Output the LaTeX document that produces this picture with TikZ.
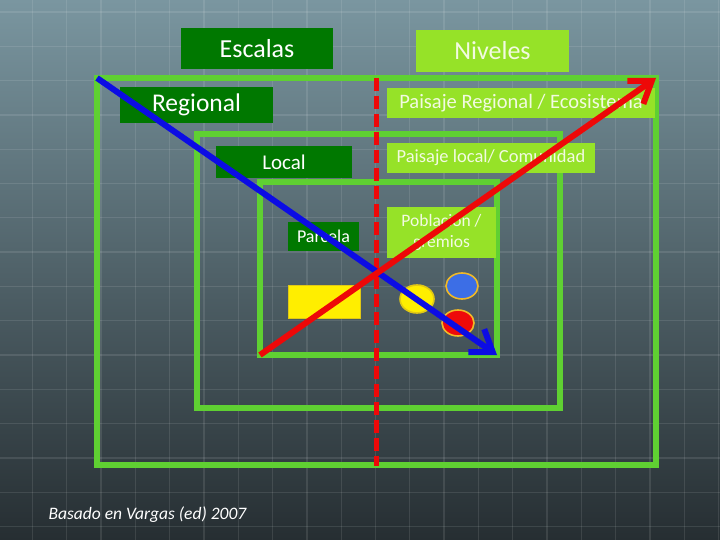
\documentclass[tikz,border=0pt]{standalone}
\usepackage{fontspec}
\setmainfont{Carlito}
\usetikzlibrary{arrows.meta,shapes.geometric}
\definecolor{bgtop}{RGB}{122,150,160}
\definecolor{bgmid}{RGB}{78,98,108}
\definecolor{bgbot}{RGB}{38,46,50}
\definecolor{darkgr}{RGB}{0,120,0}
\definecolor{lightgr}{RGB}{150,226,40}
\definecolor{rectgr}{RGB}{95,208,50}
\definecolor{arrred}{RGB}{238,8,8}
\definecolor{arrblue}{RGB}{12,12,228}
\definecolor{lighttext}{RGB}{242,250,225}
\definecolor{yel}{RGB}{255,238,0}
\definecolor{yeledge}{RGB}{225,200,20}
\definecolor{circblue}{RGB}{60,110,230}
\definecolor{circred}{RGB}{238,10,10}
\definecolor{circedge}{RGB}{240,185,40}
\tikzset{
  gridline/.style={draw=white, draw opacity=0.10, line width=1.3pt},
  darkbox/.style={fill=darkgr, text=white, inner sep=0pt, align=center},
  lightbox/.style={fill=lightgr, text=lighttext, inner sep=0pt, align=center},
  levelrect/.style={draw=rectgr, line width=6.5pt},
  divider/.style={draw=arrred, line width=5pt, dash pattern=on 13pt off 5pt},
  bigarrow/.style={line width=6pt, -{Straight Barb[length=20pt,width=28pt]}},
  blob/.style={line width=1.6pt}
}
\begin{document}
\begin{tikzpicture}[x=1pt,y=-1pt]
\useasboundingbox (0,0) rectangle (720,540);
\shade[top color=bgtop, middle color=bgmid, bottom color=bgbot] (0,0) rectangle (720,540);
\foreach \k in {0,...,20} \draw[gridline] (32.5+34.3*\k,0) -- (32.5+34.3*\k,540);
\foreach \k in {0,...,15} \draw[gridline] (0,12+34.3*\k) -- (720,12+34.3*\k);

% corner coordinates of the three level rectangles
\coordinate (o-nw) at (97,78);  \coordinate (o-ne) at (656,78);  \coordinate (o-se) at (656,465);
\coordinate (m-nw) at (197,134); \coordinate (m-se) at (560,408);
\coordinate (t-nw) at (260,182); \coordinate (t-se) at (497,355); \coordinate (t-sw) at (260,355);
\coordinate (d-top) at (376,78); \coordinate (d-bot) at (376,466);

\draw[levelrect] (o-nw) rectangle (o-se);
\draw[levelrect] (m-nw) rectangle (m-se);
\draw[levelrect] (t-nw) rectangle (t-se);

% headers
\node[darkbox, minimum width=152pt, minimum height=41pt, font=\fontsize{26}{30}\selectfont] (esc) at (257,48.5) {Escalas};
\node[lightbox, minimum width=153pt, minimum height=42pt, font=\fontsize{26}{30}\selectfont] (niv) at (492.5,51) {Niveles};

% scales
\node[darkbox, minimum width=153pt, minimum height=36pt, font=\fontsize{25.5}{28}\selectfont] (reg) at (196.5,105) {Regional};
\node[darkbox, minimum width=136pt, minimum height=32pt, font=\fontsize{21}{24}\selectfont] (loc) at (284,162) {Local};
\node[darkbox, minimum width=71pt, minimum height=29pt, font=\fontsize{18}{20}\selectfont] (par) at (323.5,236.5) {Parcela};

% levels
\node[lightbox, minimum width=268pt, minimum height=30pt, font=\fontsize{20.5}{22}\selectfont] (preg) at (521,103) {Paisaje Regional / Ecosistema};
\node[lightbox, minimum width=208pt, minimum height=30pt, font=\fontsize{18.5}{22}\selectfont] (ploc) at (491,158) {Paisaje local/ Comunidad};
\node[lightbox, minimum width=109pt, minimum height=51pt, font=\fontsize{17.5}{21}\selectfont] (pob) at (441.5,232.5) {Poblacion /\\gremios};

% items
\node[draw=yeledge, fill=yel, line width=1pt, minimum width=72pt, minimum height=33pt, inner sep=0pt] (plot) at (324,301.5) {};
\node[blob, draw=yeledge, fill=yel, ellipse, minimum width=34pt, minimum height=28pt, inner sep=0pt] (cy) at (417,299) {};
\node[blob, draw=circedge, fill=circblue, ellipse, minimum width=32pt, minimum height=26pt, inner sep=0pt] (cb) at (462,286) {};
\node[blob, draw=circedge, fill=circred, ellipse, minimum width=32pt, minimum height=26pt, inner sep=0pt] (cr) at (458,323) {};

% divider and arrows
\draw[divider] (d-top) -- (d-bot);
\draw[bigarrow, draw=arrblue] (o-nw) -- (t-se);
\draw[bigarrow, draw=arrred] (t-sw) -- (o-ne);

\node[text=white, anchor=west, font=\fontsize{17.5}{20}\selectfont\itshape] (src) at (45,515) {Basado en Vargas (ed) 2007};
\end{tikzpicture}
\end{document}
